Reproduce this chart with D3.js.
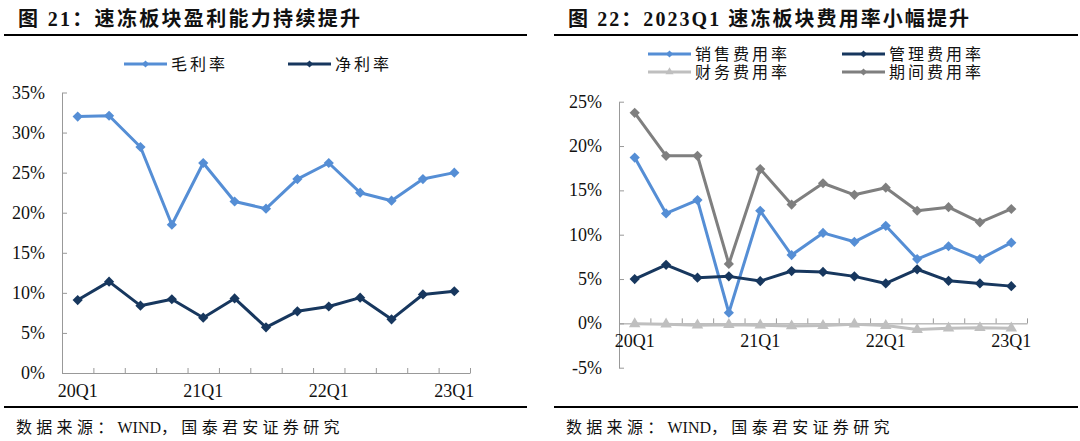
<!DOCTYPE html>
<html>
<head>
<meta charset="utf-8">
<script src="https://cdn.jsdelivr.net/npm/d3@7"></script>
<style>
  body { margin: 0; background: #fff; }
  text { font-family: "Liberation Serif", "Noto Sans CJK SC", serif; fill: #111; }
</style>
</head>
<body>
<svg id="chart" width="1080" height="441"></svg>
<script>
// quarters on the x axis, and the ones that get a label
const quarters = ['20Q1', '20Q2', '20Q3', '20Q4', '21Q1', '21Q2', '21Q3', '21Q4',
                  '22Q1', '22Q2', '22Q3', '22Q4', '23Q1'];
const labelQuarters = ['20Q1', '21Q1', '22Q1', '23Q1'];

// figure 21 (percent)
const grossMargin = [32.0, 32.1, 28.2, 18.5, 26.2, 21.4, 20.5, 24.2, 26.2, 22.5, 21.5, 24.2, 25.0];
const netMargin   = [9.1, 11.4, 8.4, 9.2, 6.9, 9.3, 5.7, 7.7, 8.3, 9.4, 6.7, 9.8, 10.2];
const leftTicks   = [0, 5, 10, 15, 20, 25, 30, 35];

// figure 22 (percent)
const sellingRate = [18.7, 12.4, 13.9, 1.2, 12.7, 7.7, 10.2, 9.2, 11.0, 7.25, 8.7, 7.25, 9.1];
const adminRate   = [5.0, 6.6, 5.15, 5.3, 4.77, 5.9, 5.8, 5.3, 4.5, 6.1, 4.8, 4.5, 4.2];
const financeRate = [-0.05, -0.1, -0.2, -0.15, -0.2, -0.3, -0.25, -0.1, -0.25, -0.7, -0.55, -0.5, -0.55];
const periodRate  = [23.75, 18.9, 18.9, 6.7, 17.4, 13.4, 15.8, 14.5, 15.3, 12.7, 13.1, 11.4, 12.9];
const rightTicks  = [-5, 0, 5, 10, 15, 20, 25];

const LIGHT_BLUE = '#558ed5';
const NAVY = '#17375e';
const LIGHT_GRAY = '#bfbfbf';
const MID_GRAY = '#7f7f7f';
const AXIS = '#999';

const svg = d3.select('#chart');

// diamond = rotated square
function diamond(size) {
  return d3.symbol(d3.symbolSquare, size)();
}

function marker(sel, shape, size, color) {
  if (shape === 'triangle') {
    sel.append('path')
      .attr('d', d3.symbol(d3.symbolTriangle, size * 1.1)())
      .attr('fill', color);
  } else {
    sel.append('path')
      .attr('d', diamond(size))
      .attr('transform', 'rotate(45)')
      .attr('fill', color);
  }
}

// headings, rules and source line around each panel
function frame(p) {
  svg.append('text')
    .attr('x', p.titleX).attr('y', 26)
    .attr('font-size', 20).attr('font-weight', 'bold')
    .attr('textLength', p.titleW).attr('lengthAdjust', 'spacing')
    .text(p.title);
  svg.append('line')
    .attr('x1', p.left).attr('x2', p.right).attr('y1', 35).attr('y2', 35)
    .attr('stroke', '#000').attr('stroke-width', 2);
  svg.append('line')
    .attr('x1', p.left).attr('x2', p.right).attr('y1', 407).attr('y2', 407)
    .attr('stroke', '#000').attr('stroke-width', 2);
  const src = svg.append('text')
    .attr('x', p.titleX - 2).attr('y', 433)
    .attr('font-size', 16);
  src.append('tspan').attr('letter-spacing', 4.3).text('数据来源：');
  src.append('tspan').text('WIND');
  src.append('tspan').attr('letter-spacing', 4.3).text('，国泰君安证券研究');
}

function drawPanel(p) {
  const g = svg.append('g');
  const x = d3.scaleBand().domain(quarters).range([p.x0, p.x1]);
  const idx = d3.scaleLinear().domain([0, quarters.length]).range([p.x0, p.x1]);
  const y = d3.scaleLinear().domain(p.domain).range([p.yBottom, p.yTop]);
  const cx = q => x(q) + x.bandwidth() / 2;

  // y axis with inner ticks
  const ya = g.append('g')
    .attr('transform', `translate(${p.x0},0)`)
    .call(d3.axisRight(y).tickValues(p.ticks).tickSize(5).tickFormat('').tickSizeOuter(0));
  ya.selectAll('path, line').attr('stroke', AXIS);

  g.selectAll('.ylab')
    .data(p.ticks)
    .join('text')
    .attr('x', p.x0 - 17)
    .attr('y', d => y(d) + 6)
    .attr('text-anchor', 'end')
    .attr('font-size', 18)
    .text(d => d + '%');

  // x axis along zero with ticks at category edges
  const xa = g.append('g')
    .attr('transform', `translate(0,${y(0)})`)
    .call(d3.axisTop(idx).ticks(quarters.length).tickSize(5).tickFormat('').tickSizeOuter(0));
  xa.selectAll('path, line').attr('stroke', AXIS);

  g.selectAll('.xlab')
    .data(labelQuarters)
    .join('text')
    .attr('x', cx)
    .attr('y', p.xLabelY)
    .attr('text-anchor', 'middle')
    .attr('font-size', 18)
    .text(d => d);

  const line = d3.line().x((d, i) => cx(quarters[i])).y(d => y(d));

  p.series.forEach(s => {
    g.append('path')
      .datum(s.values)
      .attr('d', line)
      .attr('fill', 'none')
      .attr('stroke', s.color)
      .attr('stroke-width', 3)
      .attr('stroke-linejoin', 'round');
    s.values.forEach((v, i) => {
      const m = g.append('g').attr('transform', `translate(${cx(quarters[i])},${y(v)})`);
      marker(m, s.shape, 52, s.color);
    });
  });

  // legend
  p.series.forEach(s => {
    const lg = svg.append('g').attr('transform', `translate(${s.lx},${s.ly})`);
    lg.append('line').attr('x1', 0).attr('x2', 43).attr('stroke', s.color).attr('stroke-width', 3);
    const m = lg.append('g').attr('transform', 'translate(21.5,0)');
    marker(m, s.shape, 26, s.color);
    lg.append('text')
      .attr('x', 47).attr('y', 6)
      .attr('font-size', 16)
      .attr('letter-spacing', 3)
      .text(s.name);
  });
}

frame({ title: '图 21：速冻板块盈利能力持续提升', titleX: 18, titleW: 342, left: 4, right: 527 });
frame({ title: '图 22：2023Q1 速冻板块费用率小幅提升', titleX: 568, titleW: 401, left: 554, right: 1078 });

drawPanel({
  x0: 62, x1: 470, yTop: 92.5, yBottom: 373, domain: [0, 35], ticks: leftTicks, xLabelY: 397,
  series: [
    { name: '毛利率', values: grossMargin, color: LIGHT_BLUE, shape: 'diamond', lx: 124, ly: 64 },
    { name: '净利率', values: netMargin, color: NAVY, shape: 'diamond', lx: 288, ly: 64 }
  ]
});

drawPanel({
  x0: 619, x1: 1027, yTop: 101.7, yBottom: 367.7, domain: [-5, 25], ticks: rightTicks, xLabelY: 347,
  series: [
    { name: '财务费用率', values: financeRate, color: LIGHT_GRAY, shape: 'triangle', lx: 648, ly: 72 },
    { name: '期间费用率', values: periodRate, color: MID_GRAY, shape: 'diamond', lx: 842, ly: 72 },
    { name: '销售费用率', values: sellingRate, color: LIGHT_BLUE, shape: 'diamond', lx: 648, ly: 54 },
    { name: '管理费用率', values: adminRate, color: NAVY, shape: 'diamond', lx: 842, ly: 54 }
  ]
});
</script>
</body>
</html>
